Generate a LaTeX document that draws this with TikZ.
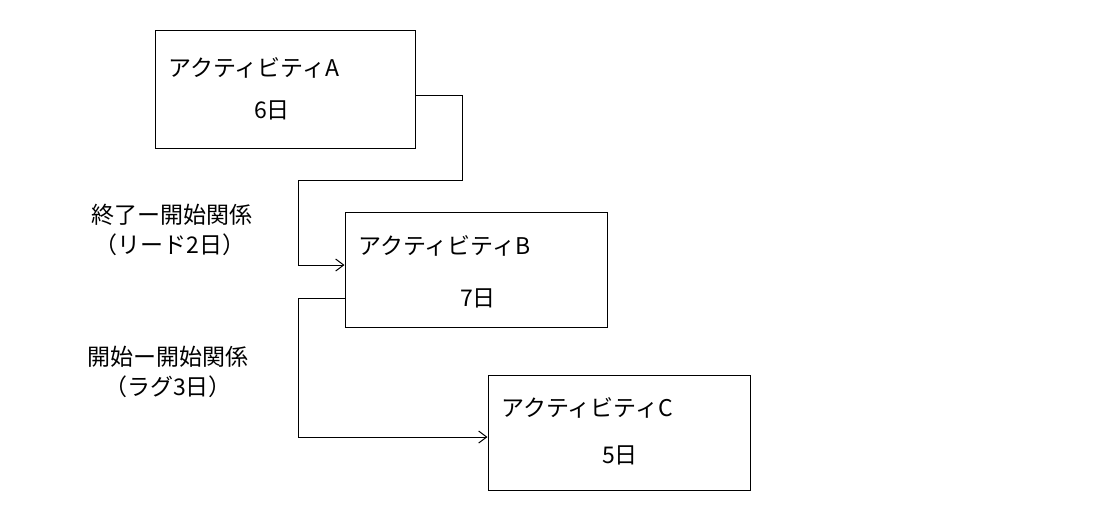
\documentclass[tikz,border=0pt]{standalone}
\usetikzlibrary{arrows.meta}
\usepackage{fontspec}
\setmainfont{Noto Sans CJK JP}
\begin{document}
\begin{tikzpicture}[x=1pt,y=-1pt,
  box/.style={draw,line width=1pt,inner sep=0pt},
  lbl/.style={font=\fontsize{23}{26}\selectfont,inner sep=0pt},
  conn/.style={line width=1pt,-{Straight Barb[length=8pt,width=12pt]}}]
\useasboundingbox (0,0) rectangle (1100,520);
\node[box,minimum width=260pt,minimum height=118pt] (A) at (285,89) {};
\node[box,minimum width=262pt,minimum height=115pt] (B) at (476,269.5) {};
\node[box,minimum width=262pt,minimum height=115pt] (C) at (619,432.5) {};
\node[lbl,anchor=west] (At) at (168,68) {アクティビティA};
\node[lbl] (Ad) at (272,110) {6日};
\node[lbl,anchor=west] (Bt) at (358,246) {アクティビティB};
\node[lbl] (Bd) at (478,298) {7日};
\node[lbl,anchor=west] (Ct) at (501,408) {アクティビティC};
\node[lbl] (Cd) at (620,455) {5日};
\node[lbl] (L1) at (172,215) {終了ー開始関係};
\node[lbl] (L2) at (170,245) {（リード2日）};
\node[lbl] (L3) at (168,357) {開始ー開始関係};
\node[lbl] (L4) at (168,387) {（ラグ3日）};
\coordinate (a1) at (A.east |- 0,95);
\coordinate (b1) at (B.west |- 0,265);
\coordinate (b2) at (B.west |- 0,298);
\coordinate (c1) at (C.west |- 0,437);
\draw[conn] (a1) -- (462,95) -- (462,180) -- (298,180) -- (298,265) -- (b1);
\draw[conn] (b2) -- (298,298) -- (298,437) -- (c1);
\end{tikzpicture}
\end{document}
